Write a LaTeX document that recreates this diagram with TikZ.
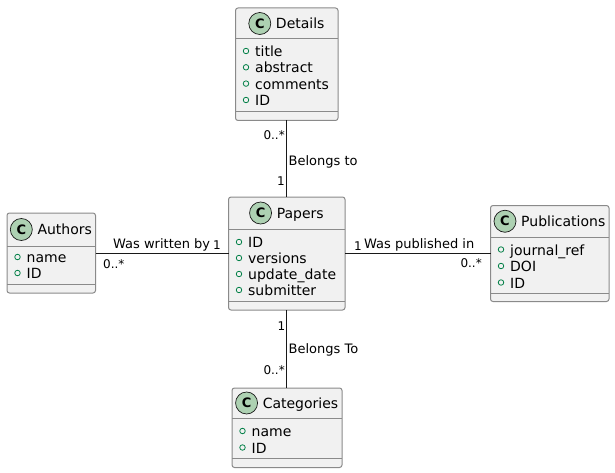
\documentclass[tikz,border=0pt]{standalone}
\usepackage{fontspec}
\setmainfont{DejaVu Sans}
\definecolor{boxfill}{HTML}{F1F1F1}
\definecolor{boxline}{HTML}{8A8A8A}
\definecolor{darkline}{HTML}{181818}
\definecolor{badge}{HTML}{ADD1B2}
\definecolor{attrgreen}{HTML}{038048}
\tikzset{
  classbox/.style={draw=boxline, fill=boxfill, line width=1pt, rounded corners=2.5pt, inner sep=0pt, outer sep=0pt},
  sepline/.style={draw=boxline, line width=1pt},
  titletext/.style={inner sep=0pt, anchor=base, font=\fontsize{14}{16}\selectfont},
  badgeC/.style={circle, draw=darkline, fill=badge, line width=0.7pt, minimum size=22pt, inner sep=0pt, font=\fontsize{13}{13}\selectfont\bfseries},
  attrtext/.style={inner sep=0pt, anchor=base west, font=\fontsize{14}{16}\selectfont},
  attrdot/.style={circle, draw=attrgreen, line width=0.8pt, minimum size=5.5pt, inner sep=0pt},
  assoc/.style={draw=darkline, line width=1pt},
  lbl/.style={inner sep=0pt, font=\fontsize{13}{15}\selectfont},
  card/.style={inner sep=0pt, font=\fontsize{12}{14}\selectfont},
}
% #1 name, #2 L, #3 T, #4 R, #5 B, #6 sep1, #7 sep2, #8 title
\newcommand\umlclass[8]{%
  \node[classbox, minimum width={#4pt-#2pt}, minimum height={#5pt-#3pt}] (#1) at ({(#2+#4)/2},{(#3+#5)/2}) {};
  \draw[sepline] (#2,#6) -- (#4,#6);
  \draw[sepline] (#2,#7) -- (#4,#7);
  \node[titletext] (#1-t) at ({(#2+#4)/2+13.5},{(#3+#6)/2+5}) {#8};
  \node[badgeC] (#1-c) at ([xshift=-16pt,yshift=5pt]#1-t.base west) {C};
}
% #1 name, #2 L, #3 row y, #4 text
\newcommand\umlattr[4]{%
  \node[attrdot] (#1-d) at (#2+10.5,#3) {};
  \node[attrtext] (#1) at (#2+19.5,#3+5.5) {#4};
}
\begin{document}
\begin{tikzpicture}[x=1pt,y=-1pt]
\useasboundingbox (0,0) rectangle (615,473);

% Details
\umlclass{Details}{235.5}{8}{338}{120.5}{39}{112}{Details}
\umlattr{d1}{235.5}{51}{title}
\umlattr{d2}{235.5}{67.3}{abstract}
\umlattr{d3}{235.5}{83.6}{comments}
\umlattr{d4}{235.5}{100}{ID}

% Authors
\umlclass{Authors}{7}{213}{95.5}{293}{246}{284}{Authors}
\umlattr{a1}{7}{257}{name}
\umlattr{a2}{7}{273}{ID}

% Papers
\umlclass{Papers}{228.5}{197}{345}{310}{229}{301}{Papers}
\umlattr{p1}{228.5}{242}{ID}
\umlattr{p2}{228.5}{258}{versions}
\umlattr{p3}{228.5}{274}{update\_date}
\umlattr{p4}{228.5}{290}{submitter}

% Publications
\umlclass{Publications}{490.5}{205.5}{609}{301.5}{237}{293}{Publications}
\umlattr{u1}{490.5}{249.5}{journal\_ref}
\umlattr{u2}{490.5}{266}{DOI}
\umlattr{u3}{490.5}{282.5}{ID}

% Categories
\umlclass{Categories}{232}{388}{342}{467.5}{418}{458.5}{Categories}
\umlattr{c1}{232}{431}{name}
\umlattr{c2}{232}{447.5}{ID}

% connectors
\draw[assoc] (Details.south) -- (Details.south |- Papers.north);
\draw[assoc] (Authors.east) -- (Authors.east -| Papers.west);
\draw[assoc] (Papers.east) -- (Papers.east -| Publications.west);
\draw[assoc] (Papers.south) -- (Papers.south |- Categories.north);

% labels Details-Papers
\node[card, anchor=base east] (dpc1) at (285,139.5) {0..*};
\node[card, anchor=base east] (dpc2) at (285,185.5) {1};
\node[lbl, anchor=base west] (dpl) at (288.5,165.5) {Belongs to};

% labels Authors-Papers
\node[lbl, anchor=base west] (apl) at (113,248) {Was written by};
\node[card, anchor=base west] (apc1) at (213,249.5) {1};
\node[card, anchor=base west] (apc2) at (103,268) {0..*};

% labels Papers-Publications
\node[card, anchor=base west] (puc1) at (354,250) {1};
\node[lbl, anchor=base west] (pul) at (364,248.3) {Was published in};
\node[card, anchor=base east] (puc2) at (482,267) {0..*};

% labels Papers-Categories
\node[card, anchor=base east] (pcc1) at (285.5,330.5) {1};
\node[lbl, anchor=base west] (pcl) at (288.5,353.5) {Belongs To};
\node[card, anchor=base east] (pcc2) at (285,374) {0..*};
\end{tikzpicture}
\end{document}
